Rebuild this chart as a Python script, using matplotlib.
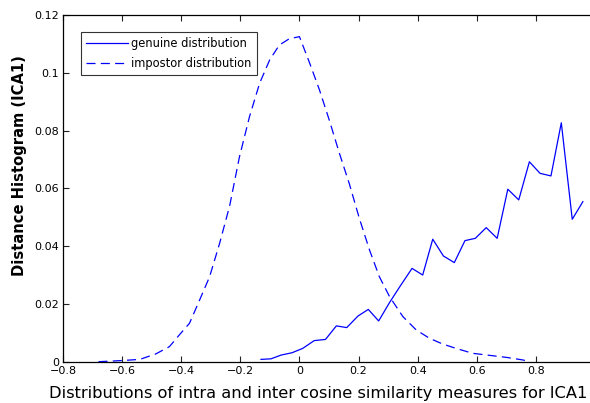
import matplotlib
matplotlib.use("Agg")
import matplotlib.pyplot as plt

genuine_x = [-0.13, -0.096, -0.062, -0.025, 0.011, 0.05, 0.088, 0.125, 0.16, 0.198,
             0.233, 0.268, 0.305, 0.343, 0.381, 0.417, 0.451, 0.487, 0.524, 0.56,
             0.595, 0.632, 0.669, 0.705, 0.742, 0.778, 0.814, 0.851, 0.886, 0.923, 0.959]
genuine_y = [0.0008, 0.001, 0.0023, 0.0031, 0.0046, 0.0073, 0.0077, 0.0124, 0.0118, 0.0158,
             0.0181, 0.0141, 0.0205, 0.0265, 0.0323, 0.030, 0.0424, 0.0366, 0.0343, 0.0419,
             0.0427, 0.0464, 0.0427, 0.0597, 0.056, 0.0692, 0.0652, 0.0643, 0.0827, 0.0493, 0.0554]

impostor_x = [-0.68, -0.64, -0.60, -0.54, -0.486, -0.44, -0.407, -0.372, -0.338, -0.304,
              -0.27, -0.236, -0.203, -0.169, -0.135, -0.101, -0.068, -0.034, 0.0, 0.034,
              0.068, 0.101, 0.135, 0.169, 0.203, 0.237, 0.27, 0.305, 0.35, 0.395,
              0.44, 0.485, 0.53, 0.586, 0.643, 0.7, 0.756, 0.78]
impostor_y = [0.0, 0.0002, 0.0004, 0.0008, 0.0027, 0.0052, 0.0092, 0.0133, 0.0213, 0.0294,
              0.041, 0.054, 0.0709, 0.0848, 0.0963, 0.1044, 0.1096, 0.1118, 0.1125, 0.1035,
              0.094, 0.0836, 0.0722, 0.0615, 0.0495, 0.0387, 0.0295, 0.0225, 0.0156, 0.011,
              0.0081, 0.0061, 0.0046, 0.0029, 0.0022, 0.0015, 0.0006, 0.0]

xticks = [-0.8, -0.6, -0.4, -0.2, 0, 0.2, 0.4, 0.6, 0.8]
xticklabels = ["\u22120.8", "\u22120.6", "\u22120.4", "\u22120.2", "0", "0.2", "0.4", "0.6", "0.8"]
yticks = [0, 0.02, 0.04, 0.06, 0.08, 0.1, 0.12]
yticklabels = ["0", "0.02", "0.04", "0.06", "0.08", "0.1", "0.12"]

plt.rcParams['font.family'] = ['DejaVu Sans']
plt.rcParams['lines.scale_dashes'] = False

W, H = 590, 403
fig = plt.figure(figsize=(W / 100, H / 100), dpi=100)
left, right, top, bottom = 63, 595, 15, 361.7
aw, ah = right - left, bottom - top
ax = fig.add_axes([left / W, 1 - bottom / H, aw / W, ah / H])

ax.plot(genuine_x, genuine_y, color='blue', lw=0.9, label='genuine distribution')
ax.plot(impostor_x, impostor_y, color='blue', lw=0.9, dashes=(6.5, 3.8),
        label='impostor distribution')

ax.set_xlim(-0.8, 1.0)
ax.set_ylim(0, 0.12)
ax.set_xticks(xticks)
ax.set_xticklabels(xticklabels)
ax.set_yticks(yticks)
ax.set_yticklabels(yticklabels)
ax.tick_params(direction='in', length=4, width=0.8, labelsize=8, top=True, right=False,
               colors='#222222', labelcolor='black', pad=3)
ax.spines['right'].set_visible(False)
for s in ['left', 'bottom', 'top']:
    ax.spines[s].set_linewidth(0.9)

ax.set_xlabel('Distributions of intra and inter cosine similarity measures for ICA1',
              fontsize=11.7)
ax.xaxis.set_label_coords((318 - left) / aw, (bottom - 386) / ah)
ax.set_ylabel('Distance Histogram (ICA1)', fontsize=10.6, fontweight='bold')
ax.yaxis.set_label_coords((27 - left) / aw, (bottom - 166) / ah)

leg = ax.legend(loc='upper left', bbox_to_anchor=((81 - left) / aw, (bottom - 31.7) / ah),
                fontsize=8.3, frameon=True, fancybox=False, edgecolor='black',
                handlelength=3.6, borderpad=0.45, labelspacing=0.62, handletextpad=0.3,
                borderaxespad=0)
leg.get_frame().set_linewidth(0.8)

fig.savefig('out.png', dpi=100)
